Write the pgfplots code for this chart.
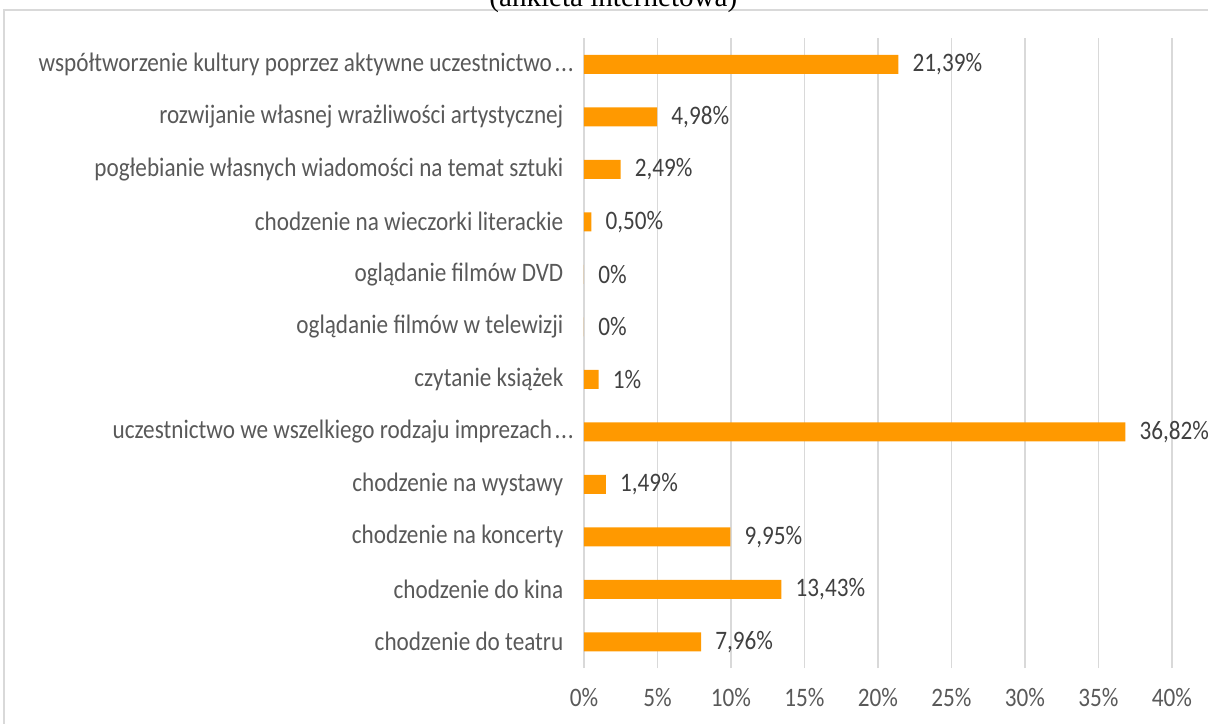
\documentclass[border=0pt]{standalone}
\usepackage{fontspec}
\setmainfont{Carlito}[FakeStretch=0.87]
\newfontfamily\titlefont{Liberation Serif}
\usepackage{pgfplots}
\pgfplotsset{compat=1.18}
\definecolor{barorange}{HTML}{FF9900}
\definecolor{gridgray}{HTML}{D9D9D9}
\definecolor{labelgray}{HTML}{595959}
\definecolor{valgray}{HTML}{404040}
\newcommand{\trunc}{\hspace{2pt}\makebox[6.5pt][l]{.\kern0.6pt.\kern0.6pt.}}

\begin{document}
\begin{tikzpicture}
% page = 1208x724 px at 0.75pt per px
\useasboundingbox (0pt,0pt) rectangle (906pt,-543pt);
\draw[gridgray, line width=0.9pt] (3pt,-7.5pt) rectangle (915pt,-555pt);
\node[anchor=base, font=\titlefont\fontsize{21.8}{24}\selectfont, inner sep=0pt]
  at (460pt,-4.6pt) {(ankieta internetowa)};
\begin{axis}[
    at={(438pt,-501pt)}, anchor=south west,
    scale only axis,
    width=441pt, height=472.5pt,
    xbar,
    bar width=14.25pt,
    xmin=0, xmax=40,
    ymin=-0.5, ymax=11.5,
    xtick={0,5,...,40},
    xticklabel={\pgfmathprintnumber{\tick}\%},
    /pgf/number format/assume math mode=true,
    ytick={0,...,11},
    yticklabels={
      chodzenie do teatru,
      chodzenie do kina,
      chodzenie na koncerty,
      chodzenie na wystawy,
      uczestnictwo we wszelkiego rodzaju imprezach\trunc,
      czytanie książek,
      oglądanie filmów w telewizji,
      oglądanie filmów DVD,
      chodzenie na wieczorki literackie,
      pogłebianie własnych wiadomości na temat sztuki,
      rozwijanie własnej wrażliwości artystycznej,
      współtworzenie kultury poprzez aktywne uczestnictwo\trunc},
    xmajorgrids=true,
    grid style={gridgray, line width=0.9pt},
    axis line style={draw=none},
    major tick length=0pt,
    ticklabel style={font=\fontsize{20}{22}\selectfont, text=labelgray},
    yticklabel style={xshift=-12pt},
    xticklabel style={yshift=-12pt},
    nodes near coords,
    point meta=explicit symbolic,
    every node near coord/.append style={font=\fontsize{20}{22}\selectfont, text=valgray,
      anchor=west, inner sep=0pt, xshift=10.5pt},
    clip=false,
]
\addplot[fill=barorange, draw=none] coordinates {
  (7.96,0) [7,96\%]
  (13.43,1) [13,43\%]
  (9.95,2) [9,95\%]
  (1.49,3) [1,49\%]
  (36.82,4) [36,82\%]
  (1,5) [1\%]
  (0,6) [0\%]
  (0,7) [0\%]
  (0.50,8) [0,50\%]
  (2.49,9) [2,49\%]
  (4.98,10) [4,98\%]
  (21.39,11) [21,39\%]
};
\end{axis}
\end{tikzpicture}
\end{document}
